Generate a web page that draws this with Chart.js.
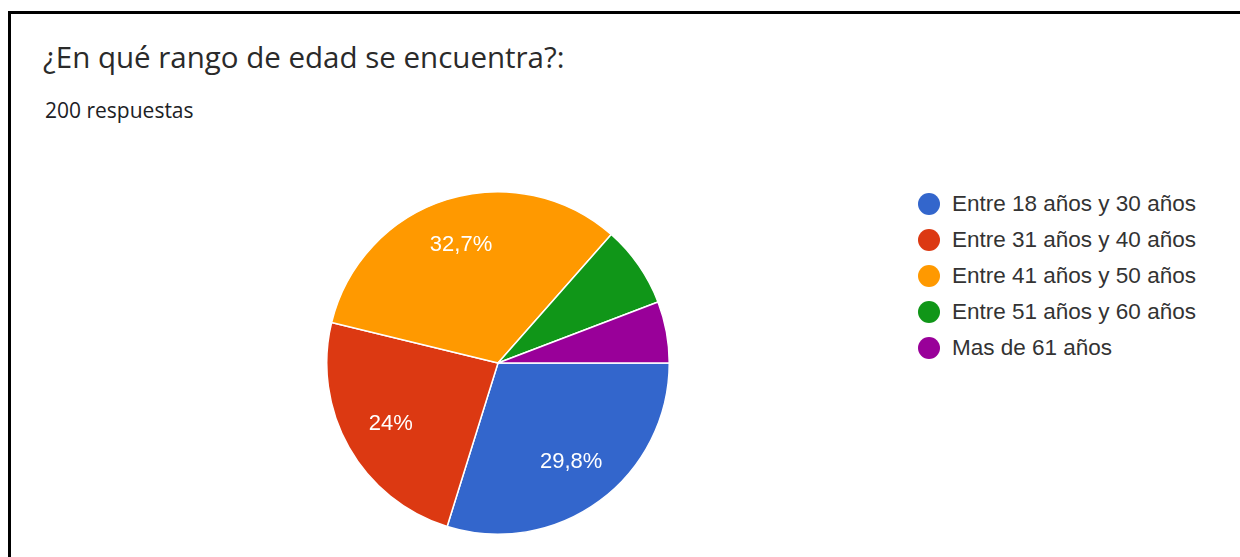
<!DOCTYPE html>
<html>
<head>
<meta charset="utf-8">
<script src="https://cdn.jsdelivr.net/npm/chart.js@4"></script>
<style>
  body { margin: 0; background: #fff; width: 1240px; height: 557px; overflow: hidden; position: relative; }
  .frame { position: absolute; left: 8px; top: 11px; width: 1300px; height: 600px; border-top: 3px solid #000; border-left: 3px solid #000; }
  .title { position: absolute; left: 43px; top: 42px; font: 29.5px "Open Sans", sans-serif; line-height: 29.5px; color: #2a2a2a; white-space: nowrap; }
  .sub { position: absolute; left: 45px; top: 100px; font: 21px "Open Sans", sans-serif; line-height: 21px; color: #202124; white-space: nowrap; }
  .chart-box { position: absolute; left: 326px; top: 191px; width: 344px; height: 344px; }
  .legend { position: absolute; left: 918px; top: 186px; font: 22.5px "Liberation Sans", Arial, sans-serif; color: #333; }
  .legend div { height: 36px; display: flex; align-items: center; white-space: nowrap; }
  .legend span.dot { display: inline-block; width: 22px; height: 22px; border-radius: 50%; margin-right: 12px; }
</style>
</head>
<body>
<div class="frame"></div>
<div class="title">¿En qué rango de edad se encuentra?:</div>
<div class="sub">200 respuestas</div>
<div class="chart-box"><canvas id="pieChart"></canvas></div>
<div class="legend" id="legend"></div>
<script>
var labels = ["Entre 18 años y 30 años", "Entre 31 años y 40 años", "Entre 41 años y 50 años", "Entre 51 años y 60 años", "Mas de 61 años"];
var percents = [29.8, 24, 32.7, 7.7, 5.8];
var colors = ["#3366cc", "#dc3912", "#ff9900", "#109618", "#990099"];

// percentage text inside the big slices
var sliceLabels = {
    id: "sliceLabels",
    afterDatasetsDraw: function(chart) {
        var ctx = chart.ctx;
        var arcs = chart.getDatasetMeta(0).data;
        ctx.save();
        ctx.fillStyle = "#fff";
        ctx.font = "22px 'Liberation Sans', Arial, sans-serif";
        ctx.textAlign = "center";
        ctx.textBaseline = "middle";
        arcs.forEach(function(arc, i) {
            var v = percents[i];
            if (v < 10) return;
            var p = arc.getProps(["x", "y", "startAngle", "endAngle", "outerRadius"], true);
            var mid = (p.startAngle + p.endAngle) / 2;
            var r = p.outerRadius * 0.72;
            ctx.fillText(String(v).replace(".", ",") + "%", p.x + Math.cos(mid) * r, p.y + Math.sin(mid) * r);
        });
        ctx.restore();
    }
};

document.addEventListener("DOMContentLoaded", function() {
    var ctx = document.getElementById("pieChart").getContext("2d");
    new Chart(ctx, {
        type: "pie",
        data: {
            labels: labels,
            datasets: [{
                data: percents,
                backgroundColor: colors,
                borderColor: "#fff",
                borderWidth: 1.5
            }]
        },
        options: {
            responsive: true,
            maintainAspectRatio: false,
            animation: false,
            rotation: 90,
            plugins: {
                legend: { display: false },
                tooltip: { enabled: false }
            }
        },
        plugins: [sliceLabels]
    });

    var legend = document.getElementById("legend");
    labels.forEach(function(name, i) {
        var row = document.createElement("div");
        var dot = document.createElement("span");
        dot.className = "dot";
        dot.style.background = colors[i];
        row.appendChild(dot);
        row.appendChild(document.createTextNode(name));
        legend.appendChild(row);
    });
});
</script>
</body>
</html>
